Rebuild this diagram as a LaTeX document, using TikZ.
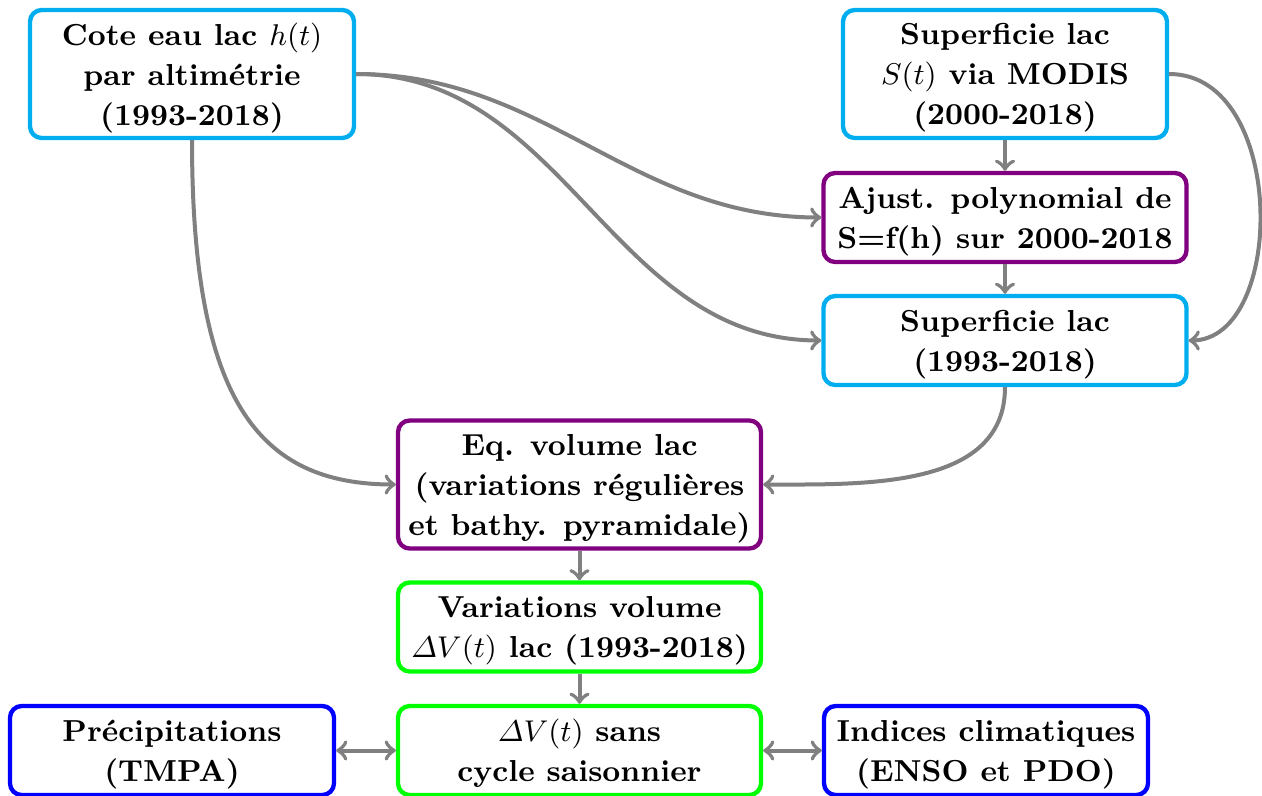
\documentclass[tikz,border=0pt]{standalone}
\usepackage{amsmath}
\usepackage{fontspec}
\definecolor{boxcyan}{RGB}{0,174,239}
\definecolor{boxpurple}{RGB}{128,0,128}
\definecolor{boxgreen}{RGB}{0,255,0}
\definecolor{boxblue}{RGB}{0,0,255}
\definecolor{arrowgray}{RGB}{128,128,128}
\begin{document}
\begin{tikzpicture}[x=0.3pt,y=-0.3pt,
  box/.style={draw, line width=1.3pt, rounded corners=3.5pt, fill=white,
    align=center, font=\fontsize{9.1pt}{12pt}\selectfont\bfseries, inner sep=2pt, text depth=0pt},
  narrow/.style={box, minimum width=97.2pt},
  wide/.style={box, minimum width=108.9pt},
  three/.style={minimum height=38.4pt},
  two/.style={minimum height=26.7pt},
  conn/.style={draw=arrowgray, line width=1.2pt, ->},
  dconn/.style={draw=arrowgray, line width=1.2pt, <->}]
\useasboundingbox (0,0) rectangle (1262,796);
\node[narrow, three, draw=boxcyan] (cote) at (192,74) {Cote eau lac $h(t)$\\par altimétrie\\(1993-2018)};
\node[narrow, three, draw=boxcyan] (modis) at (1005,74) {Superficie lac\\$S(t)$ via MODIS\\(2000-2018)};
\node[wide, two, draw=boxpurple] (ajust) at (1005,217.5) {Ajust. polynomial de\\S=f(h) sur 2000-2018};
\node[wide, two, draw=boxcyan] (sup) at (1005,340.5) {Superficie lac\\(1993-2018)};
\node[wide, three, draw=boxpurple] (eq) at (579.5,484.5) {Eq. volume lac\\(variations régulières\\et bathy. pyramidale)};
\node[wide, two, draw=boxgreen] (var) at (579.5,627) {Variations volume\\$\varDelta V(t)$ lac (1993-2018)};
\node[wide, two, draw=boxgreen] (dv) at (579.5,750.5) {$\varDelta V(t)$ sans\\cycle saisonnier};
\node[narrow, two, draw=boxblue] (prec) at (172,750.5) {Précipitations\\(TMPA)};
\node[narrow, two, draw=boxblue] (ind) at (986,750.5) {Indices climatiques\\(ENSO et PDO)};
\draw[conn] (cote.east) to[out=0,in=180] (ajust.west);
\draw[conn] (cote.east) to[out=0,in=180] (sup.west);
\draw[conn] (cote.south) .. controls +(0,260) and +(-138,0) .. (eq.west);
\draw[conn] (modis.south) -- (ajust.north);
\draw[conn] (ajust.south) -- (sup.north);
\draw[conn] (modis.east) .. controls +(118,0) and +(98,0) .. (sup.east);
\draw[conn] (sup.south) to[out=-90,in=0] (eq.east);
\draw[conn] (eq.south) -- (var.north);
\draw[conn] (var.south) -- (dv.north);
\draw[dconn] (prec.east) -- (dv.west);
\draw[dconn] (dv.east) -- (ind.west);
\end{tikzpicture}
\end{document}
